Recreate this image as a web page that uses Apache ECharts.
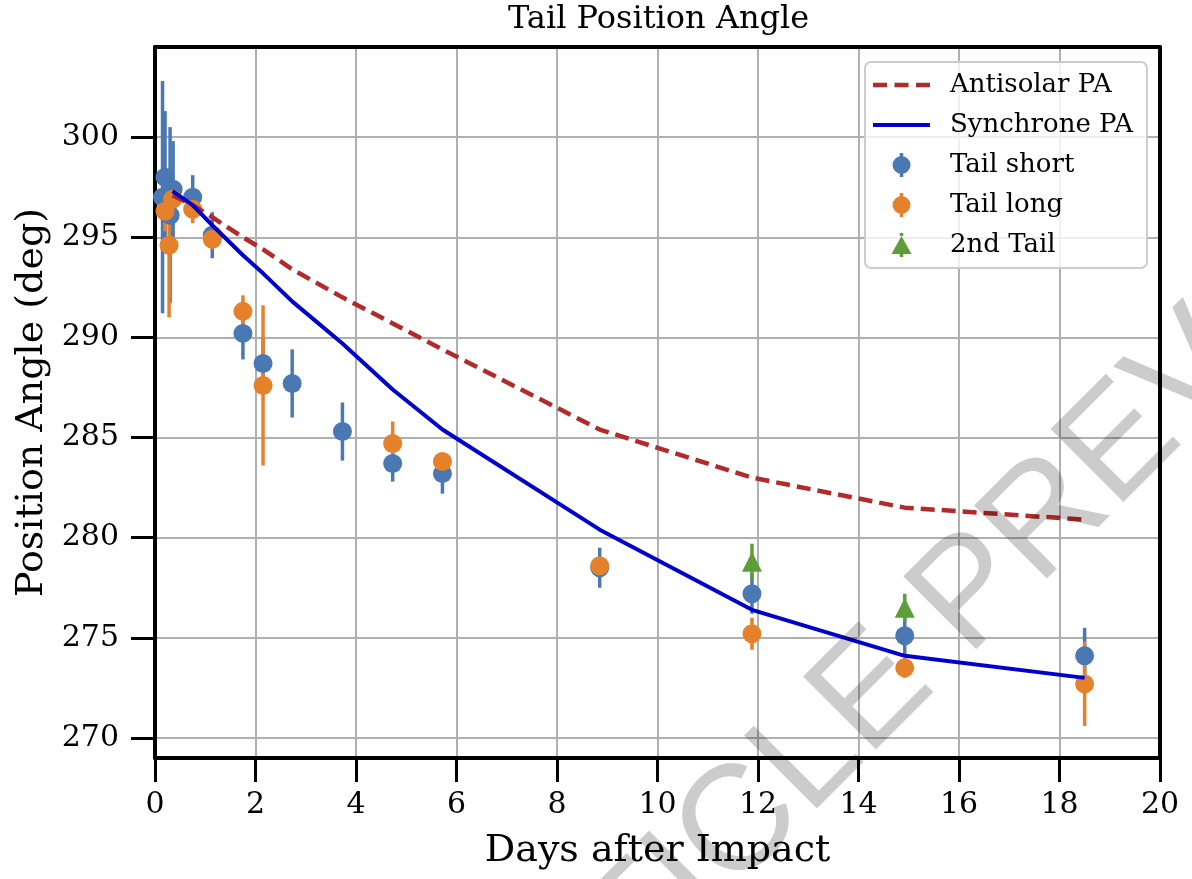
<!DOCTYPE html>
<html>
<head>
<meta charset="utf-8">
<script src="https://cdn.jsdelivr.net/npm/echarts@6/dist/echarts.min.js"></script>
<style>
html,body{margin:0;padding:0;background:#fff;}
#chart{width:1192px;height:879px;}
</style>
</head>
<body>
<div id="chart"></div>
<script>
// ---- data ----
const xTicks = [0, 2, 4, 6, 8, 10, 12, 14, 16, 18, 20];
const yTicks = [270, 275, 280, 285, 290, 295, 300];

const daysModel = [0.35, 0.75, 1.14, 1.75, 2.15, 2.73, 3.73, 4.73, 5.72, 8.85, 11.88, 14.92, 18.5];
const antisolarPA = [297.1, 296.6, 296.0, 295.0, 294.4, 293.4, 292.0, 290.7, 289.4, 285.4, 283.0, 281.5, 280.9];
const synchronePA = [297.3, 296.6, 295.6, 294.1, 293.2, 291.8, 289.7, 287.4, 285.4, 280.4, 276.4, 274.1, 273.0];

const daysShort = [0.15, 0.2, 0.3, 0.36, 0.75, 1.14, 1.75, 2.15, 2.73, 3.73, 4.73, 5.72, 8.85, 11.88, 14.92, 18.5];
const paShort   = [297.0, 298.0, 296.1, 297.4, 297.0, 295.1, 290.2, 288.7, 287.7, 285.3, 283.7, 283.2, 278.5, 277.2, 275.1, 274.1];
const errShort  = [5.8, 3.3, 4.4, 2.4, 1.1, 1.15, 1.3, 1.3, 1.7, 1.45, 0.9, 1.0, 1.0, 1.0, 1.0, 1.4];

const daysLong = [0.2, 0.28, 0.35, 0.75, 1.14, 1.75, 2.15, 4.73, 5.72, 8.85, 11.88, 14.92, 18.5];
const paLong   = [296.3, 294.6, 296.9, 296.4, 294.9, 291.3, 287.6, 284.7, 283.8, 278.6, 275.2, 273.5, 272.7];
const errLong  = [1.0, 3.6, 0.8, 0.7, 0.5, 0.8, 4.0, 1.1, 0.3, 0.4, 0.8, 0.5, 2.1];

const days2nd = [11.88, 14.92];
const pa2nd   = [278.8, 276.5];
const err2nd  = [0.9, 0.7];

// ---- styling ----
const FONT = 'DejaVu Serif';
const C_SHORT = '#4a78b3';
const C_LONG = '#e6812b';
const C_2ND = '#5d9e3b';
const C_ANTI = '#b22a2a';
const C_SYNC = '#0000cd';

function pairs(xs, ys) { return xs.map((x, i) => [x, ys[i]]); }
function triples(xs, ys, es) { return xs.map((x, i) => [x, ys[i], es[i]]); }
function errRender(color) {
  return function (params, api) {
    const x = api.value(0), y = api.value(1), e = api.value(2);
    const p1 = api.coord([x, y - e]);
    const p2 = api.coord([x, y + e]);
    return { type: 'line', shape: { x1: p1[0], y1: p1[1], x2: p2[0], y2: p2[1] },
      style: { stroke: color, lineWidth: 3.5, lineCap: 'butt' } };
  };
}
function errSeries(name, xs, ys, es, color) {
  return { name: name, type: 'custom', renderItem: errRender(color), data: triples(xs, ys, es),
    encode: { x: 0, y: 1 }, silent: true, animation: false };
}
function dotSeries(name, xs, ys, color, symbol, size) {
  return { name: name, type: 'scatter', data: pairs(xs, ys), symbol: symbol, symbolSize: size,
    itemStyle: { color: color, opacity: 1 }, silent: true, animation: false };
}

const circIcon = 'path://M-9,0A9,9,0,1,1,9,0A9,9,0,1,1,-9,0ZM-1.75,-12L1.75,-12L1.75,-8.8L-1.75,-8.8ZM-1.75,8.8L1.75,8.8L1.75,12L-1.75,12Z';
const triIcon = 'path://M0,-9L10,9L-10,9ZM-1.75,-12L1.75,-12L1.75,-9L-1.75,-9ZM-1.75,9L1.75,9L1.75,12L-1.75,12Z';
const dashIcon = 'path://M0,0L14,0L14,4.5L0,4.5ZM21.5,0L35.5,0L35.5,4.5L21.5,4.5ZM43,0L57,0L57,4.5L43,4.5Z';
const solidIcon = 'path://M0,0L57,0L57,4L0,4Z';

const yMin = 269.0, yMax = 304.5;

const chart = echarts.init(document.getElementById('chart'), null, { renderer: 'canvas' });
chart.setOption({
  animation: false,
  backgroundColor: '#ffffff',
  title: {
    text: 'Tail Position Angle', left: 508, top: 4, padding: 0,
    textStyle: { fontFamily: FONT, fontSize: 32, fontWeight: 'normal', color: '#000' }
  },
  grid: { left: 155, right: 32, top: 47, bottom: 121, containLabel: false },
  legend: {
    orient: 'vertical', left: 865, top: 62,
    padding: [10, 14, 10, 8], itemGap: 14, itemWidth: 57, itemHeight: 24,
    backgroundColor: 'rgba(255,255,255,0.8)', borderColor: '#cccccc', borderWidth: 2, borderRadius: 6,
    textStyle: { fontFamily: FONT, fontSize: 26, color: '#000', padding: [0, 0, 0, 15] },
    selectedMode: false,
    data: [
      { name: 'Antisolar PA', icon: dashIcon, itemStyle: { color: C_ANTI } },
      { name: 'Synchrone PA', icon: solidIcon, itemStyle: { color: C_SYNC } },
      { name: 'Tail short', icon: circIcon, itemStyle: { color: C_SHORT } },
      { name: 'Tail long', icon: circIcon, itemStyle: { color: C_LONG } },
      { name: '2nd Tail', icon: triIcon, itemStyle: { color: C_2ND } }
    ]
  },
  xAxis: [{
    type: 'value', min: 0, max: 20, interval: 2,
    name: 'Days after Impact', nameLocation: 'middle', nameGap: 74,
    nameTextStyle: { fontFamily: FONT, fontSize: 38, color: '#000' },
    axisLine: { show: true, onZero: false, lineStyle: { color: '#000', width: 4 } },
    axisTick: { show: true, inside: false, length: 24, lineStyle: { color: '#000', width: 3 } },
    axisLabel: { show: true, margin: 32, fontFamily: FONT, fontSize: 30, color: '#000',
      customValues: xTicks },
    splitLine: { show: true, lineStyle: { color: '#b0b0b0', width: 2 } }
  }, {
    type: 'value', min: 0, max: 20, position: 'top',
    axisLine: { show: true, onZero: false, lineStyle: { color: '#000', width: 4 } },
    axisTick: { show: false }, axisLabel: { show: false }, splitLine: { show: false }
  }],
  yAxis: [{
    type: 'value', min: yMin, max: yMax,
    name: 'Position Angle (deg)', nameLocation: 'middle', nameGap: 103, nameRotate: 90,
    nameTextStyle: { fontFamily: FONT, fontSize: 38, color: '#000' },
    axisLine: { show: true, onZero: false, lineStyle: { color: '#000', width: 4 } },
    axisTick: { show: true, inside: false, length: 24, lineStyle: { color: '#000', width: 3 },
      customValues: yTicks },
    axisLabel: { show: true, margin: 36, fontFamily: FONT, fontSize: 30, color: '#000',
      customValues: yTicks },
    splitLine: { show: true, lineStyle: { color: '#b0b0b0', width: 2 } }
  }, {
    type: 'value', min: yMin, max: yMax, position: 'right',
    axisLine: { show: true, onZero: false, lineStyle: { color: '#000', width: 4 } },
    axisTick: { show: false }, axisLabel: { show: false }, splitLine: { show: false }
  }],
  series: [
    { name: 'Antisolar PA', type: 'line', data: pairs(daysModel, antisolarPA), symbol: 'none',
      lineStyle: { color: C_ANTI, width: 4.5, type: [14, 7] }, itemStyle: { color: C_ANTI }, silent: true },
    { name: 'Synchrone PA', type: 'line', data: pairs(daysModel, synchronePA), symbol: 'none',
      lineStyle: { color: C_SYNC, width: 4 }, itemStyle: { color: C_SYNC }, silent: true },
    errSeries('Tail short err', daysShort, paShort, errShort, C_SHORT),
    dotSeries('Tail short', daysShort, paShort, C_SHORT, 'circle', 19),
    errSeries('Tail long err', daysLong, paLong, errLong, C_LONG),
    dotSeries('Tail long', daysLong, paLong, C_LONG, 'circle', 19),
    errSeries('2nd Tail err', days2nd, pa2nd, err2nd, C_2ND),
    dotSeries('2nd Tail', days2nd, pa2nd, C_2ND, 'triangle', 20)
  ],
  graphic: [{
    type: 'text', x: 945, y: 622, rotation: Math.PI / 4, z: 100, silent: true,
    style: { text: 'ARTICLE PREVIEW', font: '150px "Liberation Sans"', fill: 'rgba(0,0,0,0.2)',
      align: 'center', verticalAlign: 'middle' }
  }]
});
</script>
</body>
</html>
